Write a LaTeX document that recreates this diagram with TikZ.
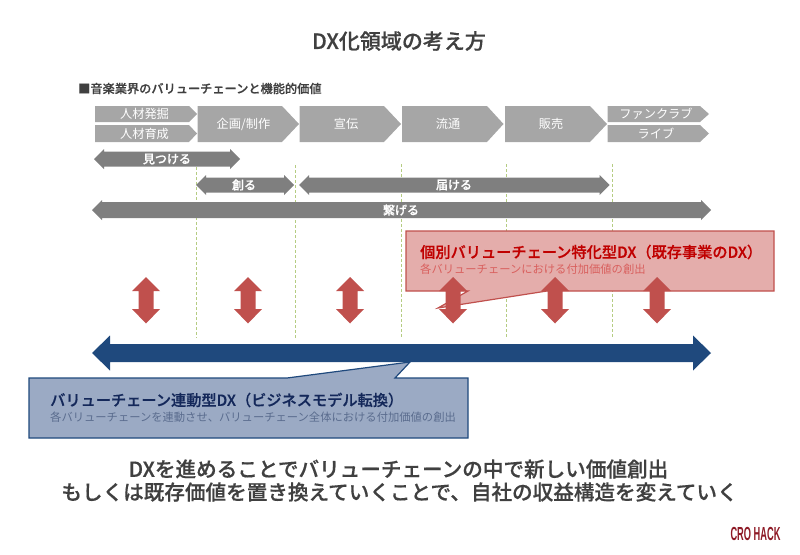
\documentclass[tikz,border=0pt]{standalone}
\usepackage{fontspec}
\setmainfont{Noto Sans CJK JP}
\newfontfamily\medfont[FakeBold=0.5]{Noto Sans CJK JP Medium}
\newfontfamily\logofont{Liberation Sans}
\definecolor{titlegray}{HTML}{404040}
\definecolor{penta}{HTML}{A6A6A6}
\definecolor{darrow}{HTML}{7F7F7F}
\definecolor{dashgreen}{HTML}{B5CC82}
\definecolor{redar}{HTML}{C0504D}
\definecolor{redfill}{HTML}{E4ADAB}
\definecolor{redhead}{HTML}{C00000}
\definecolor{redsub}{HTML}{D9605E}
\definecolor{navy}{HTML}{1F497D}
\definecolor{bluefill}{HTML}{9BAAC4}
\definecolor{bluehead}{HTML}{14285A}
\definecolor{bluesub}{HTML}{5A6C8E}
\definecolor{logored}{HTML}{8E1A26}
\newcommand{\fs}[1]{\fontsize{#1}{#1}\selectfont}
% pentagon: x0,x-shoulder,x-tip,y0,y1
\newcommand{\pentab}[5]{\fill[penta] (#1,#4) -- (#2,#4) -- (#3,{(#4+#5)/2}) -- (#2,#5) -- (#1,#5) -- cycle;}
% horizontal double arrow: x0,x1,yc,bodyhalf,headhalf,headlen
\newcommand{\hdbl}[7][darrow]{\fill[#1] (#2,#4) -- (#2+#7,#4-#6) -- (#2+#7,#4-#5) -- (#3-#7,#4-#5) -- (#3-#7,#4-#6) -- (#3,#4) -- (#3-#7,#4+#6) -- (#3-#7,#4+#5) -- (#2+#7,#4+#5) -- (#2+#7,#4+#6) -- cycle;}
% vertical red double arrow at x
\newcommand{\vdbl}[1]{\fill[redar] (#1,277) -- (#1+14,291) -- (#1+7.5,291) -- (#1+7.5,309) -- (#1+14,309) -- (#1,323.5) -- (#1-14,309) -- (#1-7.5,309) -- (#1-7.5,291) -- (#1-14,291) -- cycle;}
\tikzset{
  pentalabel/.style={text=white,font=\fs{12.2},inner sep=0pt,anchor=center},
  barlabel/.style={text=white,font=\medfont\fs{12},inner sep=0pt,anchor=center},
  guide/.style={dashgreen,densely dashed,line width=0.8pt},
}
\begin{document}
\begin{tikzpicture}[x=1pt,y=-1pt]
\useasboundingbox (0,0) rectangle (800,554);
\node[inner sep=0pt,text=titlegray,font=\medfont\fs{21}] (title) at (399,41) {DX化領域の考え方};
\node[inner sep=0pt,anchor=west,text=titlegray,font=\medfont\fs{12.2}] (sub) at (78,88.5) {■音楽業界のバリューチェーンと機能的価値};
% guides
\draw[guide] (196,167) -- (196,338);
\draw[guide] (295,165) -- (295,338);
\draw[guide] (401,164) -- (401,338);
\draw[guide] (506,164) -- (506,338);
\draw[guide] (612,164) -- (612,338);
% pentagons
\pentab{95}{189}{197}{106}{122}
\pentab{95}{189}{197}{125}{142}
\pentab{197.7}{282}{299}{106}{142}
\pentab{299.5}{384}{401}{106}{142}
\pentab{402}{487}{503.5}{106}{142}
\pentab{505}{590}{607}{106}{142}
\pentab{607.5}{700}{709}{106}{122}
\pentab{607.5}{700}{709}{125}{142}
\node[pentalabel] (p1) at (144.5,114) {人材発掘};
\node[pentalabel] (p2) at (144.5,133.5) {人材育成};
\node[pentalabel] (p3) at (243.5,124) {企画/制作};
\node[pentalabel] (p4) at (346,124) {宣伝};
\node[pentalabel] (p5) at (448,124) {流通};
\node[pentalabel] (p6) at (551,124) {販売};
\node[pentalabel] (p7) at (656,114) {ファンクラブ};
\node[pentalabel] (p8) at (656,133.5) {ライブ};
% grey double arrows
\hdbl{94}{240}{159}{7.5}{10}{10}
\hdbl{196}{294}{185}{7.5}{10}{10}
\hdbl{299}{609.5}{185}{7.5}{10}{10}
\hdbl{92}{711}{210}{8}{10}{10}
\node[barlabel] (b1) at (167,159) {見つける};
\node[barlabel] (b2) at (244,185) {創る};
\node[barlabel] (b3) at (454,185) {届ける};
\node[barlabel] (b4) at (401,210) {繋げる};
% red callout
\draw[redar,line width=1.2pt,fill=redfill] (406,231) -- (774,231) -- (774,291) -- (547,291) -- (438,308) -- (468,291) -- (406,291) -- cycle;
\foreach \xx in {146,248,350,453,555,657} {\vdbl{\xx}}
\node[inner sep=0pt,anchor=west,text=redhead,font=\medfont\fs{15.2}] (rh) at (420,252) {個別バリューチェーン特化型DX（既存事業のDX）};
\node[inner sep=0pt,anchor=west,text=redsub,font=\fs{11.3}] (rs) at (420,269) {各バリューチェーンにおける付加価値の創出};
% blue arrow
\hdbl[navy]{92}{711}{353}{9}{17.5}{18}
% blue callout
\draw[navy,line width=1.2pt,fill=bluefill] (29,378) -- (287,378) -- (410,362) -- (395,378) -- (468,378) -- (468,438) -- (29,438) -- cycle;
\node[inner sep=0pt,anchor=west,text=bluehead,font=\medfont\fs{15.2}] (bh) at (50,400) {バリューチェーン連動型DX（ビジネスモデル転換）};
\node[inner sep=0pt,anchor=west,text=bluesub,font=\fs{11.3}] (bs) at (50,417) {各バリューチェーンを連動させ、バリューチェーン全体における付加価値の創出};
% bottom
\node[inner sep=0pt,text=titlegray,font=\medfont\fs{20.6}] (l1) at (398.5,469) {DXを進めることでバリューチェーンの中で新しい価値創出};
\node[inner sep=0pt,text=titlegray,font=\medfont\fs{20.6}] (l2) at (399.5,492) {もしくは既存価値を置き換えていくことで、自社の収益構造を変えていく};
% logo
\node[inner sep=0pt,text=logored,font=\logofont\bfseries\fs{18}] (logo) at (755.5,534) {\scalebox{0.515}[1.05]{CRO HACK}};
\end{tikzpicture}
\end{document}
